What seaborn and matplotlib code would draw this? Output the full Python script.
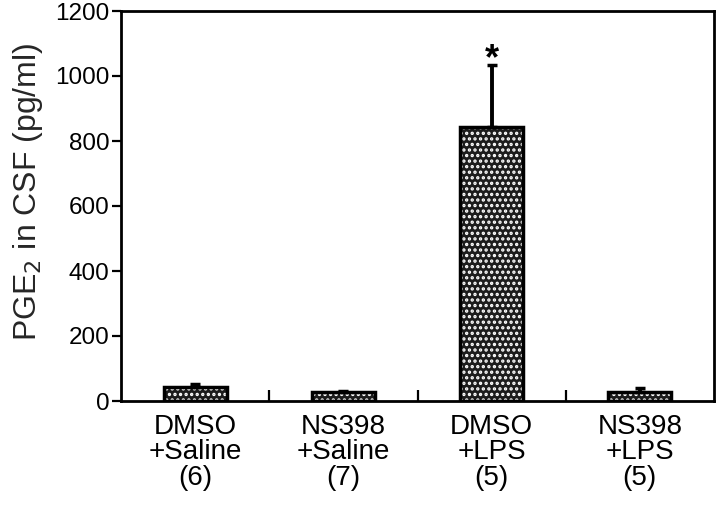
import matplotlib
matplotlib.use("Agg")
import matplotlib.pyplot as plt
import seaborn as sns
import pandas as pd

groups = ["DMSO\n+Saline\n(6)", "NS398\n+Saline\n(7)", "DMSO\n+LPS\n(5)", "NS398\n+LPS\n(5)"]
means = [44, 27, 843, 27]
sems = [9, 3, 190, 13]
star_group = 2
star_y = 1050

sns.set_theme(style="white")
plt.rcParams["font.family"] = ["Liberation Sans", "DejaVu Sans"]
plt.rcParams["hatch.linewidth"] = 1.6

df = pd.DataFrame({"group": groups, "value": means})

fig = plt.figure(figsize=(7.2, 5.12), dpi=100)
ax = fig.add_axes([121/720, 1 - 401/512, (714 - 121)/720, (401 - 11)/512])

sns.barplot(data=df, x="group", y="value", order=groups, ax=ax, width=0.425,
            color="#1c1c1c", edgecolor="white", hatch="...", linewidth=0,
            errorbar=None, saturation=1)
sns.barplot(data=df, x="group", y="value", order=groups, ax=ax, width=0.425,
            fill=False, edgecolor="black", linewidth=2.5, errorbar=None)

xs = list(range(len(groups)))
ax.errorbar(xs, means, yerr=[[0]*len(sems), sems], fmt="none", ecolor="black",
            elinewidth=2.8, capsize=3.5, capthick=2.5, zorder=5)

ax.text(star_group, star_y, "*", ha="center", va="center", fontsize=26,
        fontweight="bold", color="black")

ax.set_ylim(0, 1200)
ax.set_xlim(-0.5, len(groups) - 0.5)
ax.set_yticks(range(0, 1201, 200))
ax.set_xlabel("")
ax.set_ylabel("PGE$_2$ in CSF (pg/ml)", fontsize=23)
ax.yaxis.set_label_coords(-0.128, 0.535)

for s in ax.spines.values():
    s.set_visible(True)
    s.set_color("black")
    s.set_linewidth(2)

ax.tick_params(axis="y", which="major", direction="out", length=6.5, width=1.6,
               labelsize=17.5, left=True, pad=2, colors="black")
ax.tick_params(axis="x", which="major", length=0, labelsize=20, pad=9, colors="black")
ax.set_xticks([0.5, 1.5, 2.5], minor=True)
ax.tick_params(axis="x", which="minor", direction="in", length=8, width=1.6,
               bottom=True, colors="black")
for lbl in ax.get_xticklabels():
    lbl.set_linespacing(0.98)

fig.savefig("out.png", dpi=100)
